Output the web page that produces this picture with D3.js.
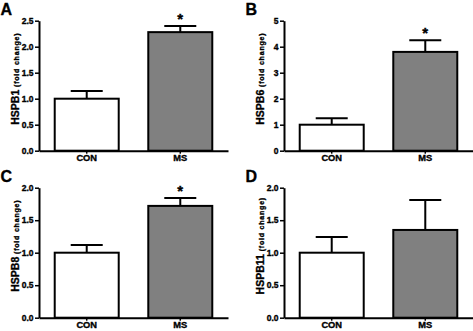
<!DOCTYPE html>
<html>
<head>
<meta charset="utf-8">
<script src="https://cdn.jsdelivr.net/npm/d3@7"></script>
<style>
  body { margin: 0; background: #fff; }
  text { font-family: "Liberation Sans", Arial, sans-serif; font-weight: bold; stroke: #000; stroke-width: 0.35px; }
</style>
</head>
<body>
<div id="chart"></div>
<script>
// values
const categories = ["CON", "MS"];
const panelLetters = ["A", "B", "C", "D"];
const genes = ["HSPB1", "HSPB6", "HSPB8", "HSPB11"];
const conMean = [1.0, 1.0, 1.0, 1.0];
const conErr = [0.15, 0.25, 0.12, 0.24];
const msMean = [2.28, 3.8, 1.72, 1.35];
const msErr = [0.12, 0.45, 0.12, 0.46];
const yMax = [2.5, 5, 2.0, 2.0];
const tickStep = [0.5, 1, 0.5, 0.5];
const tickFormat = [".1f", "d", ".1f", ".1f"];
const significant = [true, true, true, false];
const barColors = ["#ffffff", "#808080"];

const W = 473, H = 331;
const svg = d3.select("#chart").append("svg")
    .attr("width", W).attr("height", H);

const panelX = [0, 245, 0, 245];
const panelY = [0, 0, 167, 167];
const margin = {left: 39, right: 228, top: 20.7, bottom: 150.7};

genes.forEach((gene, i) => {
  const g = svg.append("g")
      .attr("transform", `translate(${panelX[i]},${panelY[i]})`);

  const x = d3.scaleBand()
      .domain(categories)
      .range([margin.left, margin.right])
      .paddingInner(0.316)
      .paddingOuter(0.168);

  const y = d3.scaleLinear()
      .domain([0, yMax[i]])
      .range([margin.bottom, margin.top]);

  const ticks = d3.range(0, yMax[i] + tickStep[i] / 2, tickStep[i]);

  // y axis
  const yAxis = g.append("g")
      .attr("transform", `translate(${margin.left},0)`)
      .call(d3.axisLeft(y).tickValues(ticks).tickFormat(d3.format(tickFormat[i]))
        .tickSize(4).tickSizeOuter(0).tickPadding(1.5));
  yAxis.select(".domain").attr("stroke-width", 2);
  yAxis.selectAll(".tick line").attr("stroke-width", 1.5);
  yAxis.selectAll("text").style("font-size", "8.5px").attr("fill", "#000");

  // bars
  const means = [conMean[i], msMean[i]];
  const errs = [conErr[i], msErr[i]];
  const data = categories.map((c, j) => ({cat: c, mean: means[j], err: errs[j], color: barColors[j]}));

  // error bars (upper only)
  const capHalf = 16;
  g.selectAll(".err")
    .data(data)
    .enter()
    .append("path")
      .attr("d", d => {
        const cx = x(d.cat) + x.bandwidth() / 2;
        const yt = y(d.mean + d.err);
        return `M${cx},${y(d.mean)}V${yt}M${cx - capHalf},${yt}H${cx + capHalf}`;
      })
      .attr("stroke", "#000")
      .attr("stroke-width", 2)
      .attr("fill", "none");

  g.selectAll(".bar")
    .data(data)
    .enter()
    .append("rect")
      .attr("x", d => x(d.cat))
      .attr("y", d => y(d.mean))
      .attr("width", x.bandwidth())
      .attr("height", d => y(0) - y(d.mean))
      .attr("fill", d => d.color)
      .attr("stroke", "#000")
      .attr("stroke-width", 2);

  // x axis
  const xAxis = g.append("g")
      .attr("transform", `translate(0,${margin.bottom})`)
      .call(d3.axisBottom(x).tickSize(3).tickSizeOuter(0).tickPadding(1));
  xAxis.select(".domain").attr("stroke-width", 2);
  xAxis.selectAll(".tick line").attr("stroke-width", 1.5);
  xAxis.selectAll("text").style("font-size", "9.3px").attr("fill", "#000");

  // significance star
  if (significant[i]) {
    const d = data[1];
    g.append("text")
      .attr("x", x(d.cat) + x.bandwidth() / 2)
      .attr("y", y(d.mean + d.err) - 11 + 8.7)
      .attr("text-anchor", "middle")
      .style("font-size", "15px")
      .text("*");
  }

  // y label
  const lab = g.append("text")
      .attr("transform", `translate(${margin.left - 20},${(margin.top + margin.bottom) / 2 - 7}) rotate(-90)`)
      .attr("text-anchor", "middle");
  lab.append("tspan").style("font-size", "10.5px").text(gene);
  lab.append("tspan").style("font-size", "7px").style("letter-spacing", "0.8px").text(" (fold change)");

  // panel letter
  g.append("text")
    .attr("x", 0.5)
    .attr("y", 14.8)
    .style("font-size", "16px")
    .text(panelLetters[i]);
});
</script>
</body>
</html>
